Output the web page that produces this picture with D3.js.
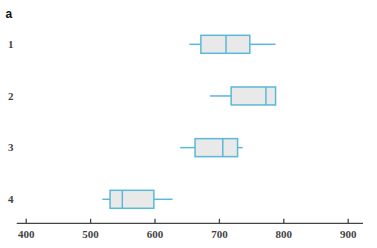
<!doctype html>
<html>
<head>
  <meta charset="UTF-8">
  <title>Boxplots</title>
  <script src="https://cdn.jsdelivr.net/npm/d3@7"></script>
  <style>
    body { margin: 0; background: #fff; }
  </style>
</head>
<body>
  <script>
    var groups = ["1", "2", "3", "4"];
    var mins = [654, 686, 640, 519];
    var q1s = [672, 719, 663, 531];
    var medians = [711, 773, 706, 550];
    var q3s = [748, 788, 729, 599];
    var maxs = [788, 788, 737, 628];
    var ticks = [400, 500, 600, 700, 800, 900];

    var w = 377, h = 248;
    var svg = d3.select("body").append("svg")
      .attr("width", w)
      .attr("height", h);

    var x = d3.scaleLinear().domain([400, 900]).range([25.7, 347.7]);
    var y = d3.scalePoint().domain(groups).range([44.3, 199.3]);
    var boxH = 18;
    var blue = "#5ab9d7";

    svg.append("text")
      .attr("x", 5.5).attr("y", 18)
      .attr("font-family", "Liberation Sans, Arial, sans-serif")
      .attr("font-weight", "bold")
      .attr("font-size", 12)
      .attr("fill", "#111")
      .text("a");

    // axis
    var axis = d3.axisBottom(x).tickValues(ticks).tickSize(0).tickPadding(0);
    var g = svg.append("g").attr("transform", "translate(0,223.3)").call(axis);
    g.select(".domain").remove();
    g.append("line")
      .attr("x1", 16.7).attr("x2", 363)
      .attr("stroke", "#444").attr("stroke-width", 1.3);
    g.selectAll(".tick line")
      .attr("y1", 0).attr("y2", -4.5)
      .attr("stroke", "#444").attr("stroke-width", 1.3);
    g.selectAll(".tick text")
      .attr("y", 15)
      .attr("dy", 0)
      .attr("font-family", "Liberation Serif, Times New Roman, serif")
      .attr("font-weight", "bold")
      .attr("font-size", 11)
      .attr("fill", "#444");

    // row labels
    svg.selectAll(".lbl").data(groups).enter().append("text")
      .attr("class", "lbl")
      .attr("x", 10.7)
      .attr("y", function(d) { return y(d) + 3.8; })
      .attr("text-anchor", "middle")
      .attr("font-family", "Liberation Serif, Times New Roman, serif")
      .attr("font-weight", "bold")
      .attr("font-size", 11)
      .attr("fill", "#444")
      .text(function(d) { return d; });

    var rows = svg.selectAll(".row").data(groups).enter().append("g")
      .attr("class", "row");

    rows.append("line")
      .attr("x1", function(d, i) { return x(mins[i]); })
      .attr("x2", function(d, i) { return x(q1s[i]); })
      .attr("y1", function(d) { return y(d); })
      .attr("y2", function(d) { return y(d); })
      .attr("stroke", blue).attr("stroke-width", 1.5);

    rows.append("line")
      .attr("x1", function(d, i) { return x(q3s[i]); })
      .attr("x2", function(d, i) { return x(maxs[i]); })
      .attr("y1", function(d) { return y(d); })
      .attr("y2", function(d) { return y(d); })
      .attr("stroke", blue).attr("stroke-width", 1.5);

    rows.append("rect")
      .attr("x", function(d, i) { return x(q1s[i]); })
      .attr("width", function(d, i) { return x(q3s[i]) - x(q1s[i]); })
      .attr("y", function(d) { return y(d) - boxH / 2; })
      .attr("height", boxH)
      .attr("fill", "#e9e9e9")
      .attr("stroke", blue).attr("stroke-width", 1.5);

    rows.append("line")
      .attr("x1", function(d, i) { return x(medians[i]); })
      .attr("x2", function(d, i) { return x(medians[i]); })
      .attr("y1", function(d) { return y(d) - boxH / 2; })
      .attr("y2", function(d) { return y(d) + boxH / 2; })
      .attr("stroke", blue).attr("stroke-width", 1.5);
  </script>
</body>
</html>
